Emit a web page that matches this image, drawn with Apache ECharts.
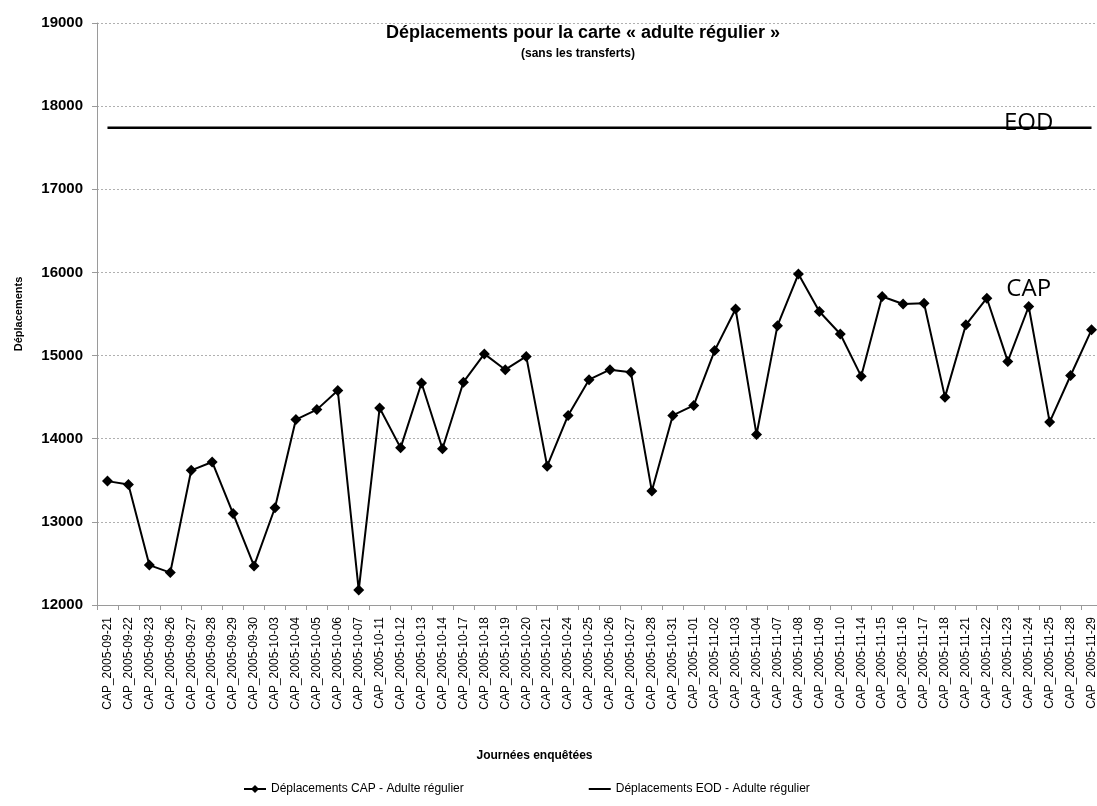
<!DOCTYPE html>
<html>
<head>
<meta charset="utf-8">
<script src="https://cdn.jsdelivr.net/npm/echarts@6/dist/echarts.min.js"></script>
<style>
  html, body { margin: 0; padding: 0; background: #fff; overflow: hidden; }
  /* the original picture is cut off on the right, so the chart is a bit wider than the window */
  #chart { width: 1103px; height: 806px; }
</style>
</head>
<body>
<div id="chart"></div>
<script>
// journées enquêtées (tick labels)
const days = [
  "CAP_2005-09-21", "CAP_2005-09-22", "CAP_2005-09-23", "CAP_2005-09-26", "CAP_2005-09-27", "CAP_2005-09-28",
  "CAP_2005-09-29", "CAP_2005-09-30", "CAP_2005-10-03", "CAP_2005-10-04", "CAP_2005-10-05", "CAP_2005-10-06",
  "CAP_2005-10-07", "CAP_2005-10-11", "CAP_2005-10-12", "CAP_2005-10-13", "CAP_2005-10-14", "CAP_2005-10-17",
  "CAP_2005-10-18", "CAP_2005-10-19", "CAP_2005-10-20", "CAP_2005-10-21", "CAP_2005-10-24", "CAP_2005-10-25",
  "CAP_2005-10-26", "CAP_2005-10-27", "CAP_2005-10-28", "CAP_2005-10-31", "CAP_2005-11-01", "CAP_2005-11-02",
  "CAP_2005-11-03", "CAP_2005-11-04", "CAP_2005-11-07", "CAP_2005-11-08", "CAP_2005-11-09", "CAP_2005-11-10",
  "CAP_2005-11-14", "CAP_2005-11-15", "CAP_2005-11-16", "CAP_2005-11-17", "CAP_2005-11-18", "CAP_2005-11-21",
  "CAP_2005-11-22", "CAP_2005-11-23", "CAP_2005-11-24", "CAP_2005-11-25", "CAP_2005-11-28", "CAP_2005-11-29"
];

// déplacements CAP - adulte régulier
const capValues = [
  13490, 13450, 12480, 12390, 13620, 13720, 13100, 12470, 13170, 14230,
  14350, 14580, 12180, 14370, 13890, 14670, 13880, 14680, 15020, 14830,
  14990, 13670, 14280, 14710, 14830, 14800, 13370, 14280, 14400, 15060,
  15560, 14050, 15360, 15980, 15530, 15260, 14750, 15710, 15620, 15630,
  14500, 15370, 15690, 14930, 15590, 14200, 14760, 15310
];

// déplacements EOD - adulte régulier (constant)
const eodLevel = 17740;
const eodValues = days.map(() => eodLevel);

const yTicks = { min: 12000, max: 19000, step: 1000 };

const font = "Liberation Sans";
const gridLine = { color: "#b0b0b0", type: [2, 2], width: 1 };

const chart = echarts.init(document.getElementById("chart"));

const option = {
  backgroundColor: "#fff",
  animation: false,
  textStyle: { fontFamily: font, color: "#000" },
  title: [
    {
      text: "Déplacements pour la carte « adulte régulier »",
      left: 583,
      top: 24,
      textAlign: "center",
      padding: 0,
      textStyle: { fontSize: 18, fontWeight: "bold", fontFamily: font, color: "#000" },
    },
    {
      text: "(sans les transferts)",
      left: 578,
      top: 48,
      textAlign: "center",
      padding: 0,
      textStyle: { fontSize: 12, fontWeight: "bold", fontFamily: font, color: "#000" },
    },
  ],
  legend: {
    left: 238,
    top: 778,
    itemWidth: 22,
    itemHeight: 10,
    itemGap: 125,
    textStyle: { fontSize: 12, fontFamily: font, color: "#000" },
    data: [
      { name: "Déplacements CAP - Adulte régulier" },
      {
        name: "Déplacements EOD - Adulte régulier",
        // plain line: tiny corner specks keep the bar thin once scaled
        icon: "path://M0,4H22V6H0Z M0,0H0.01V0.01H0Z M0,10H0.01V10.01H0Z",
      },
    ],
  },
  grid: {
    left: 97,
    top: 23,
    width: 1005,
    bottom: 201,
  },
  xAxis: {
    type: "category",
    data: days,
    boundaryGap: true,
    name: "Journées enquêtées",
    nameLocation: "middle",
    nameGap: 145,
    nameTextStyle: { fontSize: 12, fontWeight: "bold", fontFamily: font, color: "#000", padding: [0, 130, 0, 0] },
    axisLine: { lineStyle: { color: "#9a9a9a", width: 1 } },
    axisTick: { show: true, length: 5, lineStyle: { color: "#9a9a9a" } },
    axisLabel: { interval: 0, rotate: 90, fontSize: 12, margin: 12, color: "#000", fontFamily: font },
    splitLine: { show: false },
  },
  yAxis: {
    type: "value",
    min: yTicks.min,
    max: yTicks.max,
    interval: yTicks.step,
    name: "Déplacements",
    nameLocation: "middle",
    nameGap: 73,
    nameTextStyle: { fontSize: 11, fontWeight: "bold", fontFamily: font, color: "#000" },
    axisLine: { show: true, lineStyle: { color: "#9a9a9a", width: 1 } },
    axisTick: { show: true, length: 5, lineStyle: { color: "#9a9a9a" } },
    axisLabel: { fontSize: 15, fontWeight: "bold", margin: 14, color: "#000", fontFamily: font, formatter: (v) => String(v) },
    splitLine: { show: true, lineStyle: gridLine },
  },
  series: [
    {
      name: "Déplacements CAP - Adulte régulier",
      type: "line",
      data: capValues,
      symbol: "diamond",
      symbolSize: 11,
      lineStyle: { color: "#000", width: 2 },
      itemStyle: { color: "#000" },
      z: 3,
      markPoint: {
        symbol: "circle",
        symbolSize: 0,
        silent: true,
        label: { show: true, position: "inside", formatter: "CAP", fontSize: 24, fontFamily: "Open Sans", color: "#000" },
        data: [{ coord: ["CAP_2005-11-24", 15800] }],
      },
    },
    {
      name: "Déplacements EOD - Adulte régulier",
      type: "line",
      data: eodValues,
      symbol: "none",
      showSymbol: false,
      lineStyle: { color: "#000", width: 2.5 },
      itemStyle: { color: "#000" },
      z: 2,
      markPoint: {
        symbol: "circle",
        symbolSize: 0,
        silent: true,
        label: { show: true, position: "inside", formatter: "EOD", fontSize: 24, fontFamily: "Open Sans", color: "#000" },
        data: [{ coord: ["CAP_2005-11-24", 17790] }],
      },
    },
  ],
};

chart.setOption(option);
</script>
</body>
</html>
